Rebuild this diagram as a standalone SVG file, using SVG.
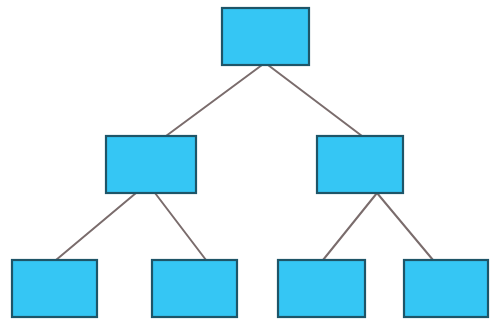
<svg xmlns="http://www.w3.org/2000/svg" width="491" height="320" viewBox="0 0 491 320">
  <style>
    .node rect { fill: #35c6f4; stroke: #1e5568; stroke-width: 2.2; }
    .edge { stroke: #7a6c6c; stroke-width: 2; fill: none; stroke-linecap: round; }
  </style>
  <rect width="491" height="320" fill="#ffffff"/>
  <g id="connectors">
    <line class="edge" x1="262" y1="65" x2="166" y2="136"/>
    <line class="edge" x1="268" y1="65" x2="362" y2="136"/>
    <line class="edge" x1="136" y1="193" x2="56" y2="260"/>
    <line class="edge" x1="155" y1="193" x2="206" y2="260"/>
    <line class="edge" x1="377" y1="193" x2="323" y2="260"/>
    <line class="edge" x1="377" y1="193" x2="433" y2="260"/>
  </g>
  <g id="root" class="node"><rect x="222" y="8" width="87" height="57"/></g>
  <g id="mid-left" class="node"><rect x="106" y="136" width="90" height="57"/></g>
  <g id="mid-right" class="node"><rect x="317" y="136" width="86" height="57"/></g>
  <g id="leaf-1" class="node"><rect x="12" y="260" width="85" height="57"/></g>
  <g id="leaf-2" class="node"><rect x="152" y="260" width="85" height="57"/></g>
  <g id="leaf-3" class="node"><rect x="278" y="260" width="87" height="57"/></g>
  <g id="leaf-4" class="node"><rect x="404" y="260" width="84" height="57"/></g>
</svg>
